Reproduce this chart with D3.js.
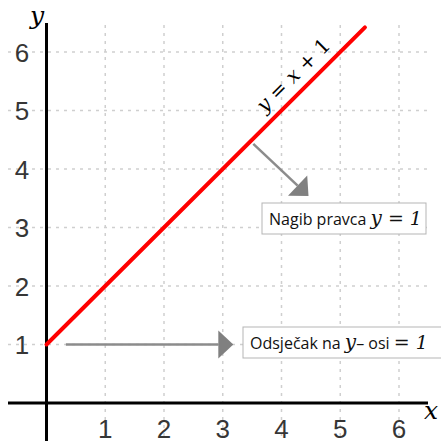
<!DOCTYPE html>
<html>
<head>
<meta charset="utf-8">
<script src="https://cdn.jsdelivr.net/npm/d3@7"></script>
<style>
  body { margin: 0; background: #fff; }
  .tick-label { font-family: "Liberation Sans", Arial, sans-serif; font-size: 26px; fill: #363636; }
  .math { font-family: "DejaVu Serif", "Liberation Serif", serif; }
  .note { font-family: "Open Sans", "Noto Sans", sans-serif; font-size: 16px; fill: #111; }
</style>
</head>
<body>
<div id="chart"></div>
<script>
// data
var xTicks = [1, 2, 3, 4, 5, 6];
var yTicks = [1, 2, 3, 4, 5, 6];
var lineX = [0, 5.42];          // y = x + 1, drawn over this x range
var slope = 1, intercept = 1;
// annotation arrows: [x0, y0, x1, y1] in data units
var arrowSlope = [3.52, 4.43, 4.46, 3.54];
var arrowIntercept = [0.33, 1, 3.18, 1];

var width = 441, height = 441;
var svg = d3.select("#chart").append("svg").attr("width", width).attr("height", height);

var x = d3.scaleLinear().domain([0, 6]).range([46.5, 399]);
var y = d3.scaleLinear().domain([0, 6]).range([403, 52]);

// grid
var grid = svg.append("g").attr("class", "grid");
grid.selectAll("line.gx").data(xTicks).enter().append("line").attr("class", "gx")
  .attr("x1", d => x(d)).attr("x2", d => x(d)).attr("y1", 25).attr("y2", height)
  .style("stroke", "#cfcfcf").style("stroke-width", 1.5).style("stroke-dasharray", "3,5");
grid.selectAll("line.gy").data(yTicks).enter().append("line").attr("class", "gy")
  .attr("y1", d => y(d)).attr("y2", d => y(d)).attr("x1", 8).attr("x2", 428)
  .style("stroke", "#cfcfcf").style("stroke-width", 1.5).style("stroke-dasharray", "3,5");

// axes
svg.append("line").attr("x1", 8).attr("x2", 428).attr("y1", y(0)).attr("y2", y(0))
  .style("stroke", "#000").style("stroke-width", 3);
svg.append("line").attr("x1", x(0)).attr("x2", x(0)).attr("y1", 23).attr("y2", height)
  .style("stroke", "#000").style("stroke-width", 3);

svg.selectAll("text.xl").data(xTicks).enter().append("text").attr("class", "tick-label xl")
  .attr("x", d => x(d)).attr("y", 438).style("text-anchor", "middle").text(d => d);
svg.selectAll("text.yl").data(yTicks).enter().append("text").attr("class", "tick-label yl")
  .attr("x", 22).attr("y", d => y(d) + 9.5).style("text-anchor", "middle").text(d => d);

svg.append("text").attr("class", "math").attr("x", 37).attr("y", 24).style("font-size", "25px")
  .style("font-style", "italic").style("text-anchor", "middle").text("y");
svg.append("text").attr("class", "math").attr("x", 431).attr("y", 419).style("font-size", "25px")
  .style("font-style", "italic").style("text-anchor", "middle").text("x");

// the line
var line = d3.line().x(d => x(d)).y(d => y(slope * d + intercept));
svg.append("path").datum(lineX).attr("d", line)
  .style("fill", "none").style("stroke", "#ff0000").style("stroke-width", 4).style("stroke-linecap", "round");

// equation label along the line
var ang = Math.atan2(y(2) - y(1), x(1) - x(0)) * 180 / Math.PI;
var lx = 4.4, ly = slope * lx + intercept;
var eq = svg.append("text").attr("class", "math").style("font-size", "20px").style("text-anchor", "middle")
  .attr("transform", `translate(${x(lx) - 7}, ${y(ly) - 7}) rotate(${ang})`);
eq.append("tspan").style("font-style", "italic").text("y");
eq.append("tspan").text(" = ");
eq.append("tspan").style("font-style", "italic").text("x");
eq.append("tspan").text(" + 1");

// arrows
function arrow(a) {
  var x0 = x(a[0]), y0 = y(a[1]), x1 = x(a[2]), y1 = y(a[3]);
  var dx = x1 - x0, dy = y1 - y0, len = Math.sqrt(dx * dx + dy * dy);
  var ux = dx / len, uy = dy / len, hl = 15, hw = 14;
  var bx = x1 - ux * hl, by = y1 - uy * hl;
  svg.append("line").attr("x1", x0).attr("y1", y0).attr("x2", bx).attr("y2", by)
    .style("stroke", "#8c8c8c").style("stroke-width", 2.5);
  svg.append("path")
    .attr("d", `M${x1},${y1}L${bx - uy * hw},${by + ux * hw}L${bx + uy * hw},${by - ux * hw}Z`)
    .style("fill", "#808080");
}
arrow(arrowSlope);
arrow(arrowIntercept);

// note boxes
function note(x0, y0, w, h) {
  svg.append("rect").attr("x", x0).attr("y", y0).attr("width", w).attr("height", h)
    .style("fill", "#fff").style("stroke", "#b5b5b5").style("stroke-width", 1);
  return svg.append("text").attr("class", "note").attr("x", x0 + 7).attr("y", y0 + h / 2 + 6);
}
var n1 = note(262, 203, 164, 31);
n1.append("tspan").text("Nagib pravca ");
n1.append("tspan").attr("class", "math").style("font-style", "italic").style("font-size", "20px").text("y");
n1.append("tspan").attr("class", "math").style("font-size", "19px").text(" = ");
n1.append("tspan").attr("class", "math").style("font-style", "italic").style("font-size", "19px").text("1");

var n2 = note(243, 327, 200, 31);
n2.append("tspan").text("Odsječak na ");
n2.append("tspan").attr("class", "math").style("font-style", "italic").style("font-size", "20px").text("y");
n2.append("tspan").text("– osi ");
n2.append("tspan").attr("class", "math").style("font-size", "19px").text("= ");
n2.append("tspan").attr("class", "math").style("font-style", "italic").style("font-size", "19px").text("1");
</script>
</body>
</html>
